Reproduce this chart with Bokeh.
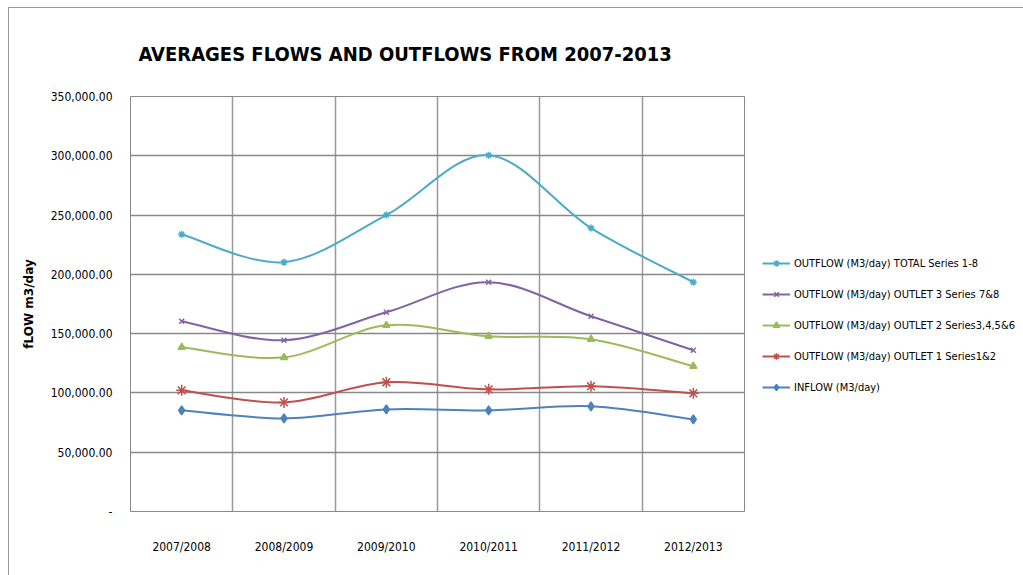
from bokeh.plotting import figure
from bokeh.models import (FixedTicker, Legend, LegendItem, Title, Range1d,
                          CustomJSTickFormatter)
from bokeh.embed import file_html
from bokeh.resources import INLINE

years = ["2007/2008", "2008/2009", "2009/2010", "2010/2011", "2011/2012", "2012/2013"]
total = [233900, 210300, 250000, 300500, 239000, 193400]
outlet3 = [160500, 144400, 168000, 193400, 164700, 136000]
outlet2 = [138500, 130000, 157000, 147800, 145300, 122500]
outlet1 = [102200, 92000, 109000, 103000, 105600, 99700]
inflow = [85300, 78500, 86100, 85300, 88700, 77700]

series = [
    ("OUTFLOW (M3/day) TOTAL Series 1-8", total, "#4BACC6", "asterisk", 7),
    ("OUTFLOW (M3/day) OUTLET 3 Series 7&8", outlet3, "#8064A2", "x", 7),
    ("OUTFLOW (M3/day) OUTLET 2 Series3,4,5&6", outlet2, "#9BBB59", "triangle", 7),
    ("OUTFLOW (M3/day) OUTLET 1 Series1&2", outlet1, "#C0504D", "asterisk", 11),
    ("INFLOW (M3/day)", inflow, "#4F81BD", "diamond", 9),
]

FONT = "'DejaVu Sans Condensed', 'Liberation Sans', sans-serif"

p = figure(frame_width=614, frame_height=415, output_backend="svg", toolbar_location=None,
           x_range=Range1d(0, 6), y_range=Range1d(0, 350000),
           min_border_left=121, min_border_right=5, min_border_top=88,
           min_border_bottom=65)
p.margin = (7, 0, 0, 8)
p.styles = {"border-top": "1px solid #999999", "border-left": "1px solid #999999"}
p.background_fill_color = "white"
p.border_fill_color = "white"
p.outline_line_color = "#888888"
p.outline_line_width = 1

t = Title(text="AVERAGES FLOWS AND OUTFLOWS  FROM 2007-2013", align="left", offset=8,
          text_font=FONT, text_font_size="20px", text_font_style="bold",
          text_color="black", standoff=61)
p.add_layout(t, "above")

xs = [i + 0.5 for i in range(len(years))]

p.xaxis.ticker = FixedTicker(ticks=xs)
p.xaxis.major_label_overrides = {x: y for x, y in zip(xs, years)}
p.xaxis.axis_line_color = None
p.xaxis.major_tick_line_color = None
p.xaxis.minor_tick_line_color = None
p.xaxis.major_label_standoff = 22
p.xaxis.major_label_text_font = FONT
p.xaxis.major_label_text_font_size = "12px"
p.xaxis.major_label_text_color = "black"

p.yaxis.ticker = FixedTicker(ticks=list(range(0, 350001, 50000)))
p.yaxis.formatter = CustomJSTickFormatter(code="""
if (tick == 0) return '-';
return tick.toLocaleString('en-US', {minimumFractionDigits: 2, maximumFractionDigits: 2});
""")
p.yaxis.axis_line_color = None
p.yaxis.major_tick_line_color = None
p.yaxis.minor_tick_line_color = None
p.yaxis.major_label_standoff = 12
p.yaxis.major_label_text_font = FONT
p.yaxis.major_label_text_font_size = "12px"
p.yaxis.major_label_text_color = "black"
p.yaxis.axis_label = "fLOW m3/day"
p.yaxis.axis_label_text_font = "DejaVu Sans"
p.yaxis.axis_label_text_font_style = "bold"
p.yaxis.axis_label_text_font_size = "12px"
p.yaxis.axis_label_standoff = 12
p.yaxis.axis_label_text_color = "black"

p.xgrid.ticker = FixedTicker(ticks=list(range(0, 7)))
p.xgrid.grid_line_color = "#999999"
p.xgrid.grid_line_width = 1.5
p.ygrid.grid_line_color = "#888888"
p.ygrid.grid_line_width = 1.5

nan = float("nan")
items = []
for name, vals, color, marker, size in series:
    n = len(vals)
    x0, y0, x1, y1, cx0, cy0, cx1, cy1 = [], [], [], [], [], [], [], []
    for i in range(n - 1):
        pm = (xs[max(i - 1, 0)], vals[max(i - 1, 0)])
        pa = (xs[i], vals[i])
        pb = (xs[i + 1], vals[i + 1])
        pn = (xs[min(i + 2, n - 1)], vals[min(i + 2, n - 1)])
        x0.append(pa[0]); y0.append(pa[1])
        x1.append(pb[0]); y1.append(pb[1])
        cx0.append(pa[0] + (pb[0] - pm[0]) / 6); cy0.append(pa[1] + (pb[1] - pm[1]) / 6)
        cx1.append(pb[0] - (pn[0] - pa[0]) / 6); cy1.append(pb[1] - (pn[1] - pa[1]) / 6)
    p.bezier(x0=x0, y0=y0, x1=x1, y1=y1, cx0=cx0, cy0=cy0, cx1=cx1, cy1=cy1,
             line_color=color, line_width=2)
    sc = p.scatter(xs, vals, marker=marker, size=size, line_color=color,
                   fill_color=color, line_width=1.5)
    lg = p.line([nan], [nan], line_color=color, line_width=2)
    items.append(LegendItem(label=name, renderers=[lg, sc]))

legend = Legend(items=items, location=(18, 116), border_line_color=None,
                background_fill_alpha=0, label_text_font=FONT,
                label_text_font_size="11px", label_text_color="black",
                glyph_width=28, glyph_height=16, spacing=15, label_standoff=4,
                padding=0, margin=0)
p.add_layout(legend, "right")

open("out.html", "w").write(file_html(p, INLINE))
